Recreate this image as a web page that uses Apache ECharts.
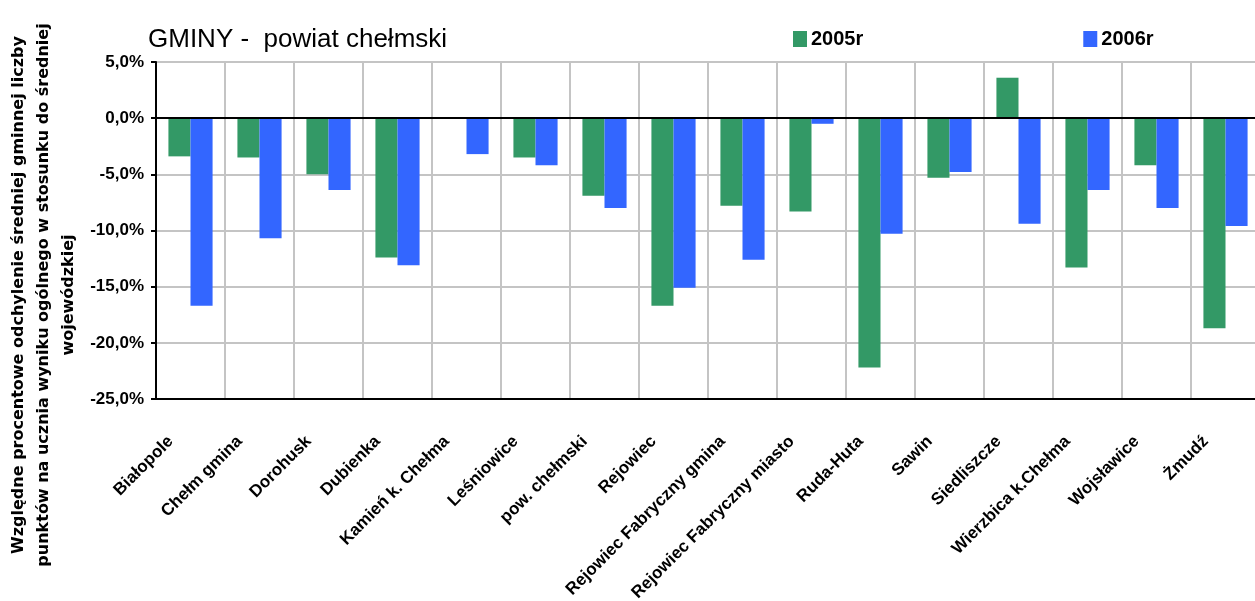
<!DOCTYPE html>
<html>
<head>
<meta charset="utf-8">
<script src="https://cdn.jsdelivr.net/npm/echarts@6/dist/echarts.min.js"></script>
<style>
    html, body { margin: 0; padding: 0; background: #fff; }
    #chart { width: 1255px; height: 601px; }
</style>
</head>
<body>
<div id="chart"></div>
<script>
// gminy powiatu chełmskiego
const gminy = ['Białopole', 'Chełm gmina', 'Dorohusk', 'Dubienka', 'Kamień k. Chełma', 'Leśniowice',
    'pow. chełmski', 'Rejowiec', 'Rejowiec Fabryczny gmina', 'Rejowiec Fabryczny miasto', 'Ruda-Huta',
    'Sawin', 'Siedliszcze', 'Wierzbica k.Chełma', 'Wojsławice', 'Żmudź']
// odchylenie w %
const rok2005 = [-3.4, -3.5, -5.0, -12.4, 0, -3.5, -6.9, -16.7, -7.8, -8.3, -22.2, -5.3, 3.6, -13.3, -4.2, -18.7]
const rok2006 = [-16.7, -10.7, -6.4, -13.1, -3.2, -4.2, -8.0, -15.1, -12.6, -0.5, -10.3, -4.8, -9.4, -6.4, -8.0, -9.6]
const seriesNames = ['2005r', '2006r']
const yMin = -25
const yMax = 5
const yStep = 5

const chart = echarts.init(document.getElementById('chart'))

const option = {
    animation: false,
    textStyle: { fontFamily: 'Liberation Sans, Arial, sans-serif' },
    color: ['#339966', '#3366ff'],
    title: {
        text: 'GMINY -  powiat chełmski',
        left: 143,
        top: 22,
        textStyle: { fontSize: 26, fontWeight: 'normal', color: '#000' }
    },
    legend: {
        data: seriesNames,
        left: 788,
        top: 24,
        itemWidth: 14,
        itemHeight: 16,
        itemGap: 220,
        icon: 'rect',
        textStyle: { fontSize: 20, fontWeight: 'bold', color: '#000', padding: [0, 0, 0, -1] }
    },
    graphic: [{
        type: 'text',
        x: 44,
        y: 295,
        rotation: Math.PI / 2,
        style: {
            text: 'Względne procentowe odchylenie średniej gminnej liczby\npunktów na ucznia wyniku ogólnego w stosunku do średniej\nwojewódzkiej',
            font: 'bold 16px DejaVu Sans, sans-serif',
            fill: '#000',
            align: 'center',
            verticalAlign: 'middle',
            lineHeight: 25
        }
    }],
    grid: {
        left: 156,
        top: 62,
        right: -5,
        bottom: 202,
        outerBoundsMode: 'none',
        show: true,
        borderColor: '#000',
        borderWidth: 2
    },
    xAxis: {
        type: 'category',
        data: gminy,
        axisLine: { onZero: false, lineStyle: { color: '#000', width: 2 } },
        axisTick: { show: false },
        splitLine: { show: true, lineStyle: { color: '#c4c4c4', width: 2 } },
        axisLabel: {
            interval: 0,
            rotate: 45,
            margin: 20,
            padding: [0, 28, 0, 0],
            fontSize: 17,
            fontWeight: 'bold',
            color: '#000'
        }
    },
    yAxis: {
        type: 'value',
        min: yMin,
        max: yMax,
        interval: yStep,
        axisLine: { show: true, lineStyle: { color: '#000', width: 2 } },
        axisTick: { show: true, length: 5, lineStyle: { color: '#000', width: 2 } },
        splitLine: { lineStyle: { color: '#c4c4c4', width: 2 } },
        axisLabel: {
            margin: 12,
            fontSize: 17,
            fontWeight: 'bold',
            color: '#000',
            formatter: v => v.toFixed(1).replace('.', ',') + '%'
        }
    },
    series: [
        {
            name: seriesNames[0],
            type: 'bar',
            data: rok2005,
            barGap: '0%',
            barCategoryGap: '36%',
            markLine: {
                silent: true,
                symbol: 'none',
                label: { show: false },
                lineStyle: { color: '#000', width: 2, type: 'solid' },
                data: [{ yAxis: 0 }]
            }
        },
        {
            name: seriesNames[1],
            type: 'bar',
            data: rok2006,
            barGap: '0%',
            barCategoryGap: '36%'
        }
    ]
}

chart.setOption(option)
</script>
</body>
</html>
